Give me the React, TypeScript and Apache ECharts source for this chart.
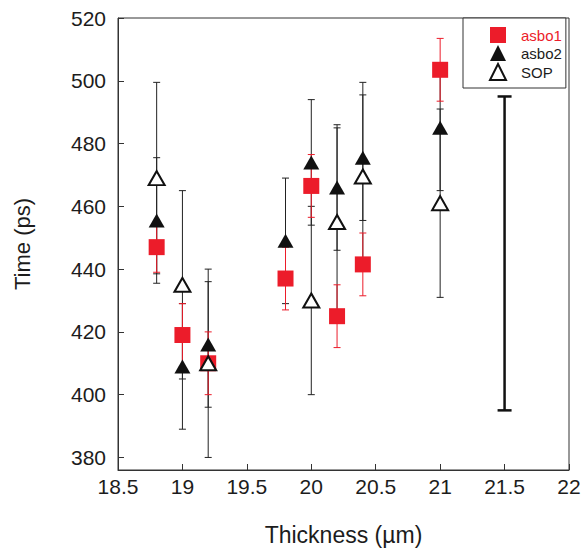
import React, { useEffect, useRef } from "react";
import * as echarts from "echarts";

const thickness = [18.8, 19.0, 19.2, 19.8, 20.0, 20.2, 20.4, 21.0];
const asbo1 = [447, 419, 410, 437, 466.5, 425, 441.5, 503.5];
const asbo1Err = [8, 10, 10, 10, 10, 10, 10, 10];
const asbo2 = [455.5, 409, 416, 449, 474, 466, 475.5, 485];
const asbo2Err = [20, 20, 20, 20, 20, 20, 20, 20];
const sopThickness = [18.8, 19.0, 19.2, 20.0, 20.2, 20.4, 21.0];
const sop = [469, 435, 410, 430, 455, 469.5, 461];
const sopErr = [30.5, 30, 30, 30, 30, 30, 30];
// representative error bar
const scaleBar = [[21.5, 445, 50]];

const xTicks = { min: 18.5, max: 22, interval: 0.5 };
const yRange = { min: 376, max: 520 };

const RED = "#ec1c2a";
const FONT = "Liberation Sans, Arial, sans-serif";
const TXT = "#1c1c1c";

function errSeries(name: string, data: number[][], color: string, cap: number, width: number, z: number) {
  return {
    type: "custom",
    name,
    z,
    silent: true,
    data,
    encode: { x: 0, y: 1 },
    renderItem: (params: any, api: any) => {
      const x = api.value(0);
      const y = api.value(1);
      const e = api.value(2);
      const top = api.coord([x, y + e]);
      const bot = api.coord([x, y - e]);
      const style = { stroke: color, lineWidth: width };
      return {
        type: "group",
        children: [
          { type: "line", shape: { x1: top[0], y1: top[1], x2: bot[0], y2: bot[1] }, style },
          { type: "line", shape: { x1: top[0] - cap, y1: top[1], x2: top[0] + cap, y2: top[1] }, style },
          { type: "line", shape: { x1: bot[0] - cap, y1: bot[1], x2: bot[0] + cap, y2: bot[1] }, style },
        ],
      };
    },
  };
}

export default function App() {
  const ref = useRef<HTMLDivElement>(null);
  useEffect(() => {
    if (!ref.current) return;
    const chart = echarts.init(ref.current, undefined, { renderer: "svg" });
    const a1 = thickness.map((x, i) => [x, asbo1[i]]);
    const a2 = thickness.map((x, i) => [x, asbo2[i]]);
    const s = sopThickness.map((x, i) => [x, sop[i]]);
    chart.setOption({
      animation: false,
      backgroundColor: "#fff",
      grid: { left: 118, right: 15, top: 18, bottom: 82, show: true, borderColor: "#333", borderWidth: 1 },
      legend: {
        data: [
          { name: "asbo1", textStyle: { color: RED } },
          { name: "asbo2" },
          { name: "SOP" },
        ],
        orient: "vertical",
        left: 463,
        top: 18,
        backgroundColor: "#fff",
        borderColor: "#333",
        borderWidth: 1,
        borderRadius: 0,
        padding: [9, 4, 7, 26],
        itemWidth: 16,
        itemHeight: 16,
        itemGap: 2,
        textStyle: { fontFamily: FONT, fontSize: 15, color: TXT, padding: [0, 0, 0, 10] },
      },
      xAxis: {
        type: "value",
        min: xTicks.min,
        max: xTicks.max,
        interval: xTicks.interval,
        name: "Thickness (µm)",
        nameLocation: "middle",
        nameGap: 53,
        nameTextStyle: { fontFamily: FONT, fontSize: 23, color: TXT },
        axisLine: { lineStyle: { color: "#333" } },
        axisTick: { inside: true, length: 6, lineStyle: { color: "#333" } },
        axisLabel: { fontFamily: FONT, fontSize: 21, color: TXT, margin: 6 },
        splitLine: { show: false },
      },
      yAxis: {
        type: "value",
        min: yRange.min,
        max: yRange.max,
        splitNumber: 7,
        name: "Time (ps)",
        nameLocation: "middle",
        nameGap: 85,
        nameTextStyle: { fontFamily: FONT, fontSize: 22, color: TXT },
        axisLine: { show: true, lineStyle: { color: "#333" } },
        axisTick: { show: true, inside: true, length: 6, lineStyle: { color: "#333" } },
        axisLabel: { fontFamily: FONT, fontSize: 21, color: TXT, margin: 12, showMinLabel: false },
        splitLine: { show: false },
      },
      series: [
        errSeries("sopErr", sopThickness.map((x, i) => [x, sop[i], sopErr[i]]), "#222", 3.5, 1, 1),
        errSeries("asbo2Err", thickness.map((x, i) => [x, asbo2[i], asbo2Err[i]]), "#222", 3.5, 1, 1),
        errSeries("asbo1Err", thickness.map((x, i) => [x, asbo1[i], asbo1Err[i]]), RED, 3.5, 1, 1),
        errSeries("scale", scaleBar, "#111", 7, 2.5, 1),
        {
          type: "scatter",
          name: "asbo1",
          data: a1,
          symbol: "rect",
          symbolSize: 16,
          itemStyle: { color: RED, opacity: 1 },
          z: 3,
        },
        {
          type: "scatter",
          name: "asbo2",
          data: a2,
          symbol: "triangle",
          symbolSize: [16, 14],
          itemStyle: { color: "#111", opacity: 1 },
          z: 3,
        },
        {
          type: "scatter",
          name: "SOP",
          data: s,
          symbol: "emptyTriangle",
          symbolSize: [16, 14],
          itemStyle: { color: "#111", borderColor: "#111", borderWidth: 1.2, opacity: 1 },
          z: 4,
        },
      ],
    });
    return () => chart.dispose();
  }, []);
  return <div ref={ref} style={{ position: "absolute", left: 0, top: 0, width: 584, height: 552 }} />;
}
